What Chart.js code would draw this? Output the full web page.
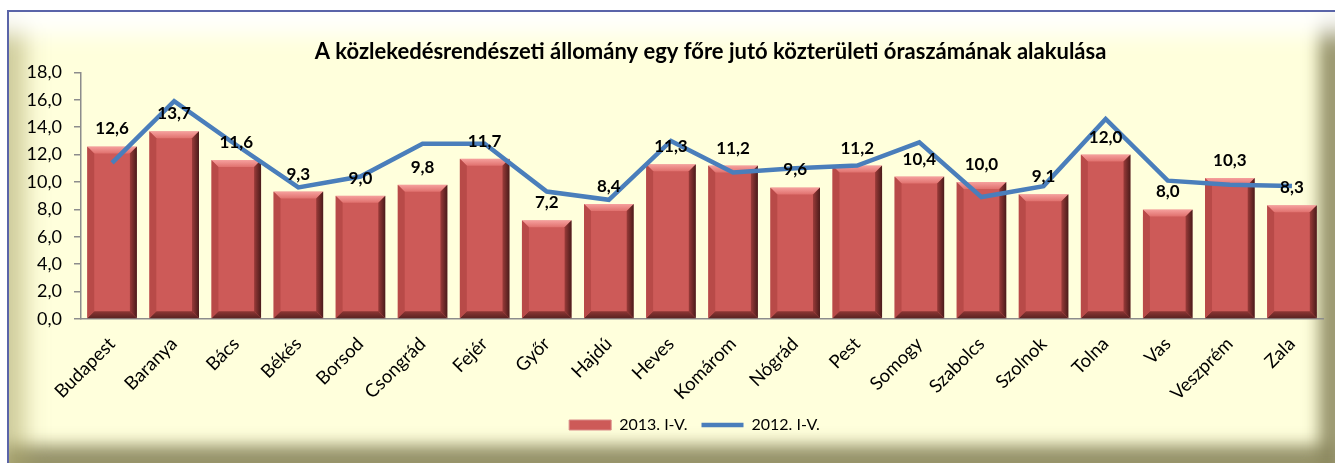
<!DOCTYPE html>
<html lang="hu">
<head>
  <meta charset="UTF-8">
  <title>Közterületi óraszám</title>
  <script src="https://cdn.jsdelivr.net/npm/chart.js"></script>
  <style>
    body {
      margin: 0;
      background: #fff;
      width: 1335px;
      height: 463px;
      overflow: hidden;
      position: relative;
    }
    .keret {
      position: absolute;
      left: 7px;
      top: 10px;
      width: 1328px;
      height: 453px;
      box-sizing: border-box;
      background: #ffffdc;
      border-top: 2px solid #5a64a8;
      border-left: 2px solid #5a64a8;
      box-shadow:
        inset 0 38px 22px -16px rgba(255, 255, 255, 0.95),
        inset 30px 0 22px -14px rgba(175, 170, 110, 0.6),
        inset -26px 0 16px -10px rgba(140, 136, 95, 0.9),
        inset 0 -28px 16px -10px rgba(140, 136, 95, 0.9);
    }
    #chart {
      position: absolute;
      left: 0;
      top: 0;
    }
  </style>
</head>
<body>
  <div class="keret"></div>
  <canvas id="chart" width="1335" height="463"></canvas>

  <script>
    const categories = ['Budapest', 'Baranya', 'Bács', 'Békés', 'Borsod', 'Csongrád', 'Fejér', 'Győr', 'Hajdú', 'Heves',
      'Komárom', 'Nógrád', 'Pest', 'Somogy', 'Szabolcs', 'Szolnok', 'Tolna', 'Vas', 'Veszprém', 'Zala'];
    const ertekek2013 = [12.6, 13.7, 11.6, 9.3, 9.0, 9.8, 11.7, 7.2, 8.4, 11.3, 11.2, 9.6, 11.2, 10.4, 10.0, 9.1, 12.0, 8.0, 10.3, 8.3];
    const ertekek2012 = [11.4, 15.9, 12.7, 9.6, 10.4, 12.8, 12.8, 9.3, 8.7, 13.0, 10.7, 11.0, 11.2, 12.9, 8.9, 9.7, 14.6, 10.1, 9.8, 9.7];
    const yTicks = [0, 2, 4, 6, 8, 10, 12, 14, 16, 18];

    const betu = 'Lato, "Open Sans", sans-serif';
    const szam = v => v.toFixed(1).replace('.', ',');

    // domború oszlopok, mint az Excelben
    const bevelPlugin = {
      id: 'bevel',
      afterDatasetDraw(chart, args) {
        if (chart.data.datasets[args.index].type !== 'bar') return;
        const ctx = chart.ctx;
        const b = 7;
        ctx.save();
        args.meta.data.forEach(bar => {
          const L = bar.x - bar.width / 2, R = bar.x + bar.width / 2;
          const T = bar.y, B = bar.base;
          const poly = (pts, fill) => {
            ctx.beginPath();
            ctx.moveTo(pts[0][0], pts[0][1]);
            pts.slice(1).forEach(p => ctx.lineTo(p[0], p[1]));
            ctx.closePath();
            ctx.fillStyle = fill;
            ctx.fill();
          };
          const gt = ctx.createLinearGradient(0, T, 0, T + b);
          gt.addColorStop(0, '#f6a19e');
          gt.addColorStop(1, '#e0716e');
          poly([[L, T], [R, T], [R - b, T + b], [L + b, T + b]], gt);
          const gr = ctx.createLinearGradient(R - b, 0, R, 0);
          gr.addColorStop(0, '#9a3b39');
          gr.addColorStop(1, '#4a1b1a');
          poly([[R, T], [R, B], [R - b, B - b], [R - b, T + b]], gr);
          const gb = ctx.createLinearGradient(0, B - b, 0, B);
          gb.addColorStop(0, '#8e3634');
          gb.addColorStop(1, '#5a2221');
          poly([[L, B], [R, B], [R - b, B - b], [L + b, B - b]], gb);
          poly([[L, T], [L + b, T + b], [L + b, B - b], [L, B]], '#b84a48');
        });
        ctx.restore();
      }
    };

    // értékcímkék az oszlopok fölött
    const cimkePlugin = {
      id: 'cimkek',
      afterDatasetsDraw(chart) {
        const ctx = chart.ctx;
        const meta = chart.getDatasetMeta(1);
        ctx.save();
        ctx.font = 'bold 17px ' + betu;
        ctx.fillStyle = '#000';
        ctx.textAlign = 'center';
        ctx.textBaseline = 'bottom';
        meta.data.forEach((bar, i) => {
          ctx.fillText(szam(ertekek2013[i]), bar.x, bar.y - 9);
        });
        ctx.restore();
      }
    };

    // cím és jelmagyarázat a rajzterület közepéhez igazítva
    const eltolasPlugin = {
      id: 'eltolas',
      afterLayout(chart) {
        [[chart.titleBlock, 44], [chart.legend, 28]].forEach(([box, dx]) => {
          if (!box) return;
          box.left += dx;
          box.right += dx;
        });
      }
    };

    new Chart(document.getElementById('chart'), {
      data: {
        labels: categories,
        datasets: [
          {
            type: 'line',
            label: '2012. I-V.',
            data: ertekek2012,
            borderColor: '#4a7ebb',
            backgroundColor: '#4a7ebb',
            borderWidth: 4.5,
            pointRadius: 0,
            pointStyle: 'line',
            tension: 0,
            order: 0
          },
          {
            type: 'bar',
            label: '2013. I-V.',
            data: ertekek2013,
            backgroundColor: '#cd5a58',
            borderColor: '#d98a88',
            borderWidth: 1,
            borderSkipped: false,
            pointStyle: 'rect',
            barPercentage: 0.8,
            categoryPercentage: 1,
            order: 1
          }
        ]
      },
      options: {
        responsive: false,
        animation: false,
        layout: { padding: { left: 10, right: 12, top: 0, bottom: 20 } },
        plugins: {
          title: {
            display: true,
            text: 'A közlekedésrendészeti állomány egy főre jutó közterületi óraszámának alakulása',
            color: '#000',
            font: { family: betu, size: 22, weight: 'bold' },
            padding: { top: 39, bottom: 7 }
          },
          legend: {
            position: 'bottom',
            reverse: true,
            labels: {
              usePointStyle: true,
              pointStyleWidth: 42,
              boxHeight: 10,
              color: '#000',
              font: { family: betu, size: 16 },
              padding: 14
            }
          },
          tooltip: { enabled: false }
        },
        scales: {
          x: {
            grid: { display: false },
            border: { display: true, color: '#8c8c8c', width: 1.5 },
            ticks: {
              color: '#000',
              font: { family: betu, size: 18.5 },
              minRotation: 45,
              maxRotation: 45,
              autoSkip: false,
              padding: 6
            },
            afterFit: s => { s.height = 84; }
          },
          y: {
            min: 0,
            max: 18,
            afterBuildTicks: s => { s.ticks = yTicks.map(v => ({ value: v })); },
            grid: { drawOnChartArea: false, drawTicks: true, tickLength: 7, color: '#8c8c8c', lineWidth: 1.5 },
            border: { display: true, color: '#8c8c8c', width: 1.5 },
            ticks: {
              color: '#000',
              font: { family: betu, size: 18 },
              padding: 12,
              callback: v => szam(v)
            },
            afterFit: s => { s.width = 71; }
          }
        }
      },
      plugins: [bevelPlugin, cimkePlugin, eltolasPlugin]
    });
  </script>
</body>
</html>
